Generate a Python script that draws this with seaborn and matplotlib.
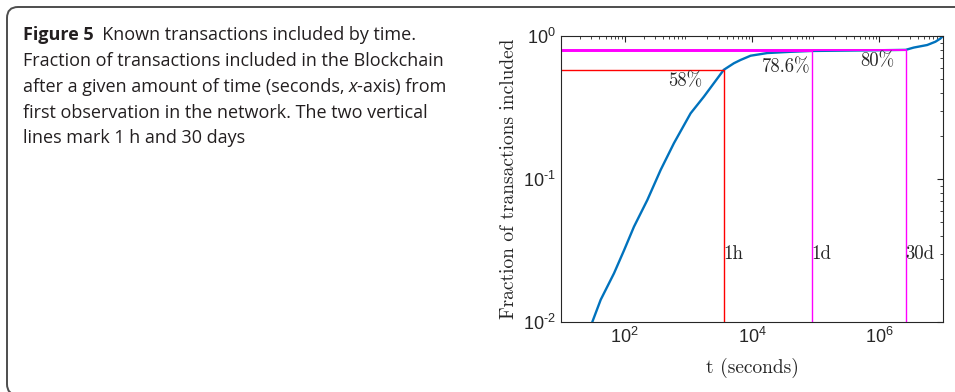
import numpy as np
import pandas as pd
import matplotlib
matplotlib.use("Agg")
import matplotlib.pyplot as plt
import seaborn as sns
from matplotlib.patches import FancyBboxPatch
from matplotlib.ticker import LogLocator, NullFormatter, FixedLocator, FixedFormatter

# ---- data ----
t_sec = [31, 42, 68, 98, 140, 227, 367, 594, 1086, 1758, 3600, 5200, 6620,
         9500, 17400, 40000, 86400, 350000, 1000000, 2592000, 3470000,
         5650000, 7600000, 9100000, 10000000]
frac = [0.010, 0.0143, 0.0219, 0.0318, 0.0464, 0.0713, 0.1156, 0.178, 0.288,
        0.377, 0.58, 0.645, 0.68, 0.728, 0.76, 0.775, 0.786, 0.791, 0.795,
        0.80, 0.83, 0.865, 0.912, 0.96, 1.0]
mark_t = [3600, 86400, 2592000]
mark_frac = [0.58, 0.786, 0.80]
mark_names = ["1h", "1d", "30d"]
pct_labels = ["58%", "78.6%", "80%"]
pct_pos_t = [910, 34900, 930000]
pct_pos_y = [0.48, 0.602, 0.663]
x_ticks = [1e2, 1e4, 1e6]
x_tick_labels = [r"$\mathdefault{10^{\text{2}}}$", r"$\mathdefault{10^{\text{4}}}$",
                 r"$\mathdefault{10^{\text{6}}}$"]
y_ticks = [1e-2, 1e-1, 1e0]
y_tick_labels = [r"$\mathdefault{10^{\text{-2}}}$", r"$\mathdefault{10^{\text{-1}}}$",
                 r"$\mathdefault{10^{\text{0}}}$"]

caption_lines = [
    [("Figure 5", "bold"), ("  Known transactions included by time.", "normal")],
    [("Fraction of transactions included in the Blockchain", "normal")],
    [("after a given amount of time (seconds, ", "normal"), ("x", "italic"),
     ("-axis) from", "normal")],
    [("first observation in the network. The two vertical", "normal")],
    [("lines mark 1 h and 30 days", "normal")],
]

sns.set_theme(style="white")
plt.rcParams["font.family"] = ["Liberation Sans", "DejaVu Sans"]
plt.rcParams["mathtext.fontset"] = "custom"
plt.rcParams["mathtext.rm"] = "Liberation Sans"
plt.rcParams["mathtext.it"] = "Liberation Sans:italic"
plt.rcParams["mathtext.bf"] = "Liberation Sans:bold"
plt.rcParams["axes.unicode_minus"] = False

W, H = 955, 392
fig = plt.figure(figsize=(W / 100, H / 100), dpi=100)

# caption box (in inches: 1 inch = 100 px)
box = FancyBboxPatch((7 / 100, (H - 395) / 100), 12.0, (395 - 7) / 100,
                     boxstyle="round,pad=0,rounding_size=0.11",
                     transform=fig.dpi_scale_trans, facecolor="none",
                     edgecolor="#4d4d4d", linewidth=1.4)
fig.patches.append(box)

# axes
ax = fig.add_axes([561 / W, 1 - 322 / H, (943 - 561) / W, (322 - 36) / H])
df = pd.DataFrame({"t": t_sec, "f": frac})
sns.lineplot(data=df, x="t", y="f", ax=ax, color="#0072BD", linewidth=1.7)
ax.set_xscale("log")
ax.set_yscale("log")
ax.set_xlim(10, 1e7)
ax.set_ylim(0.01, 1.0)

xmin = 10
red = "#FF0000"
mag = "#FF00FF"
ax.plot([xmin, mark_t[0]], [mark_frac[0], mark_frac[0]], color=red, lw=1.0)
ax.plot([xmin, mark_t[1]], [mark_frac[1], mark_frac[1]], color=mag, lw=1.4)
ax.plot([xmin, mark_t[2]], [mark_frac[2], mark_frac[2]], color=mag, lw=1.4)
cols = [red, mag, mag]
for tt, ff, c in zip(mark_t, mark_frac, cols):
    ax.plot([tt, tt], [0.01, ff], color=c, lw=1.0)

cm = "cmr10"
for lab, tx, ty in zip(pct_labels, pct_pos_t, pct_pos_y):
    ax.text(tx, ty, lab, ha="center", va="center", fontsize=13.5, family=cm)
for name, tt in zip(mark_names, mark_t):
    ax.text(tt, 0.0299, name, ha="left", va="center", fontsize=13.5, family=cm)

ax.set_xlabel("t (seconds)", family=cm, fontsize=14, color="#262626", labelpad=8)
ax.set_ylabel("Fraction of transactions included", family=cm, fontsize=14,
              color="#262626", labelpad=4)

ax.xaxis.set_major_locator(FixedLocator(x_ticks))
ax.xaxis.set_major_formatter(FixedFormatter(x_tick_labels))
ax.xaxis.set_minor_locator(LogLocator(base=10, subs=np.arange(2, 10), numticks=20))
ax.xaxis.set_minor_formatter(NullFormatter())
ax.yaxis.set_major_locator(FixedLocator(y_ticks))
ax.yaxis.set_major_formatter(FixedFormatter(y_tick_labels))
ax.yaxis.set_minor_locator(LogLocator(base=10, subs=np.arange(2, 10), numticks=20))
ax.yaxis.set_minor_formatter(NullFormatter())
ax.tick_params(which="both", direction="in", top=True, right=True,
               colors="#262626", labelsize=13)
ax.tick_params(which="major", length=4, width=0.8)
ax.tick_params(which="minor", length=2.2, width=0.6)
for s in ax.spines.values():
    s.set_color("#262626")
    s.set_linewidth(0.8)

# caption text
fig.canvas.draw()
renderer = fig.canvas.get_renderer()
x0 = 22.5
baselines = [40, 66, 92, 117.5, 143]
cap_font = "Open Sans"
for line, yb in zip(caption_lines, baselines):
    x = x0
    for txt, style in line:
        kw = dict(family=cap_font, fontsize=13.0, color="#231f20", va="baseline", ha="left")
        if style == "bold":
            kw["fontweight"] = "bold"
        elif style == "italic":
            kw["fontstyle"] = "italic"
        tobj = fig.text(x / W, 1 - yb / H, txt, **kw)
        bb = tobj.get_window_extent(renderer)
        x = x + bb.width

fig.savefig("out.png", dpi=100)
